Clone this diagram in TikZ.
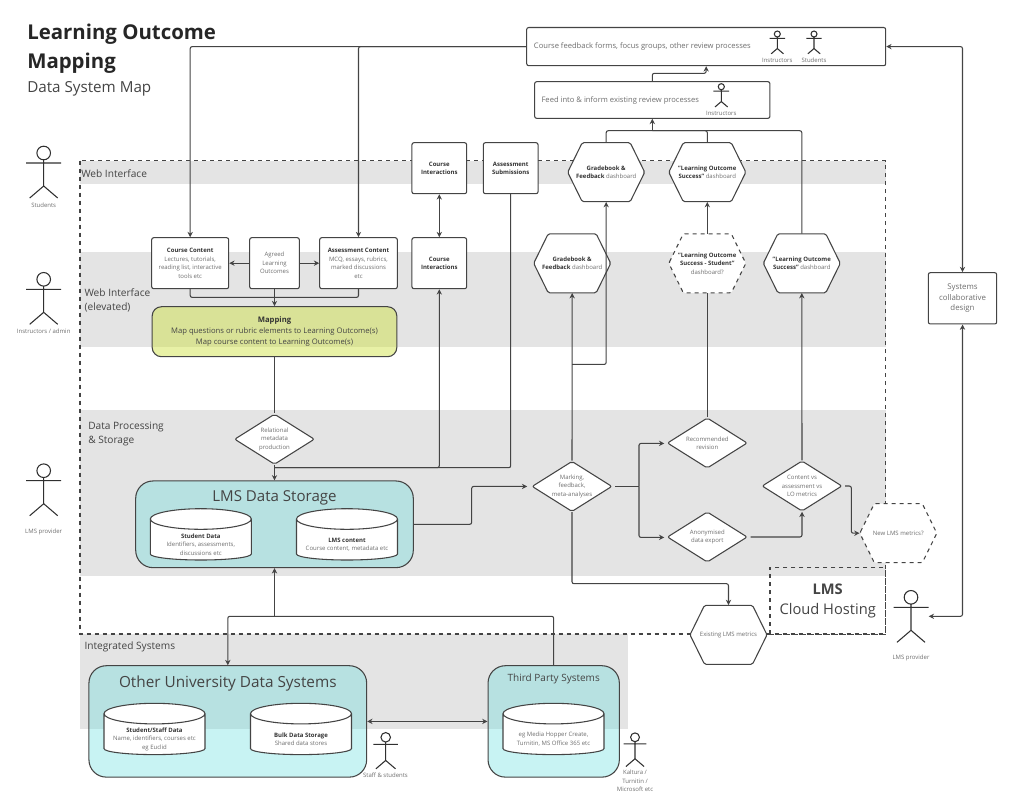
\documentclass[tikz,border=0pt]{standalone}
\usepackage{fontspec}
\setmainfont{Open Sans}
\usetikzlibrary{arrows.meta,shapes.geometric}
\definecolor{band}{HTML}{E4E4E4}
\definecolor{ink}{HTML}{444444}
\definecolor{bodygrey}{HTML}{6E6E6E}
\definecolor{headgrey}{HTML}{333333}
\definecolor{olive}{RGB}{204,224,58}
\definecolor{teal1}{RGB}{106,222,222}
\newcommand{\fsize}[2]{\fontsize{#1}{#2}\selectfont}
\newcommand{\hd}[1]{\textbf{\textcolor{headgrey}{#1}}}
\newcommand{\drum}[4]{
  \draw[drumline] (#2-50.5,#3+10.3) -- (#2-50.5,#3+45.3) arc[start angle=180,end angle=0,x radius=50.5,y radius=6] -- (#2+50.5,#3+10.3) arc[start angle=0,end angle=-180,x radius=50.5,y radius=10.3] arc[start angle=180,end angle=0,x radius=50.5,y radius=10.3];
  \node[smalltxt] (#1) at (#2,#3+36) {#4};
}
\newcommand{\hexnode}[5][]{
  \draw[hexline,#1] (#3-38.5,#4) -- (#3-24,#4-29.5) -- (#3+24,#4-29.5) -- (#3+38.5,#4) -- (#3+24,#4+29.5) -- (#3-24,#4+29.5) -- cycle;
  \node[smalltxt,minimum width=57.75pt,minimum height=44.25pt] (#2) at (#3,#4) {#5};
}
\tikzset{
  smalltxt/.style={align=center,inner sep=0,text=bodygrey,font=\fsize{4.5}{6.35}},
  midtxt/.style={align=center,inner sep=0,text=bodygrey,font=\fsize{5.7}{8}},
  zonetxt/.style={align=left,inner sep=0,anchor=west,text=ink,font=\fsize{7.6}{10.5}},
  box/.style 2 args={rectangle,draw=ink,fill=white,line width=.8pt,rounded corners=1.5pt,inner sep=0,minimum width=#1*.75pt,minimum height=#2*.75pt},
  store/.style 2 args={rectangle,draw=ink,fill=teal1,fill opacity=.37,text opacity=1,line width=.8pt,rounded corners=13pt,inner sep=0,minimum width=#1*.75pt,minimum height=#2*.75pt},
  hexline/.style={draw=ink,fill=white,line width=.8pt,rounded corners=1.2pt},
  dia/.style={diamond,aspect=1.6,draw=ink,fill=white,line width=.8pt,rounded corners=1.5pt,inner sep=-3pt,minimum width=60pt,minimum height=37.8pt},
  drumline/.style={draw=ink,fill=white,line width=.8pt},
  link/.style={draw=ink,line width=.8pt,rounded corners=1.5pt,>={Stealth[length=4pt,width=4pt]}},
  actor/.pic={
    \draw[ink!70!black,line width=.8pt] (0,0) circle (6.8) (0,6.8) -- (0,33) (-17.5,10) -- (17.5,10) (-14,45) -- (0,33) -- (14,45);
  }
}
\begin{document}
\begin{tikzpicture}[x=.75pt,y=-.75pt]
  \useasboundingbox (0,0) rectangle (1024,801);
  \fill[band] (80,160.7) rectangle (885.5,184);
  \fill[band] (80,252) rectangle (885.5,347);
  \fill[band] (80,410) rectangle (885.5,576);
  \fill[band] (80,634) rectangle (628,729);
  \draw[dashed,ink,line width=.8pt] (80,160.7) rectangle (885.5,634);

  \node[anchor=west,inner sep=0,align=left,text=black!85,font=\fsize{15.3}{21.7}\bfseries] (title) at (27,49) {Learning Outcome\\Mapping};
  \node[anchor=west,inner sep=0,text=ink,font=\fsize{11.4}{14}] (subtitle) at (27,89) {Data System Map};
  \node[zonetxt] (zoneweb) at (81,173.2) {Web Interface};
  \node[zonetxt] (zoneelev) at (84.3,300.5) {Web Interface\\(elevated)};
  \node[zonetxt] (zonedata) at (88,433.5) {Data Processing\\\& Storage};
  \node[zonetxt] (zoneint) at (84.3,647.2) {Integrated Systems};

  \node[box={359}{38.2}] (feedback) at (706.2,46.6) {};
  \node[midtxt,anchor=west] (feedbacktxt) at (533.7,46.7) {Course feedback forms, focus groups, other review processes};
  \node[box={235.3}{36.6}] (feed) at (652.3,100) {};
  \node[midtxt,anchor=west] (feedtxt) at (541.3,100) {Feed into \& inform existing review processes};
  \node[box={54.7}{51}] (citop) at (439.3,168.2) {};
  \node[smalltxt] (citoptxt) at (439.3,168.2) {\hd{Course}\\\hd{Interactions}};
  \node[box={54.7}{51}] (subm) at (510.7,168.2) {};
  \node[smalltxt] (submtxt) at (510.7,168.2) {\hd{Assessment}\\\hd{Submissions}};
  \node[box={77}{51}] (coursecontent) at (190.2,263.2) {};
  \node[smalltxt] (coursetxt) at (190.2,263.2) {\hd{Course Content}\\Lectures, tutorials,\\reading list, interactive\\tools etc};
  \node[box={49.6}{51}] (agreed) at (274.5,263.2) {};
  \node[smalltxt] (agreedtxt) at (274.5,263.2) {Agreed\\Learning\\Outcomes};
  \node[box={77.6}{51}] (assess) at (358.5,263.2) {};
  \node[smalltxt] (assesstxt) at (358.5,263.2) {\hd{Assessment Content}\\MCQ, essays, rubrics,\\marked discussions\\etc};
  \node[box={54.7}{51}] (ci) at (439.3,263.2) {};
  \node[smalltxt] (citxt) at (439.3,263.2) {\hd{Course}\\\hd{Interactions}};
  \node[store={244.7}{50},fill=olive,fill opacity=.45,rounded corners=7pt] (mapping) at (274.5,331.7) {};
  \node[midtxt,font=\fsize{5.75}{8}] (mappingtxt) at (274.5,331.5) {\hd{Mapping}\\\textcolor{ink}{Map questions or rubric elements to Learning Outcome(s)}\\\textcolor{ink}{Map course content to Learning Outcome(s)}};
  \node[box={68.4}{51.3}] (systems) at (962.5,298.3) {};
  \node[midtxt,font=\fsize{5.9}{7.9}] (systemstxt) at (962.5,298.3) {Systems\\collaborative\\design};

  \hexnode{gradetop}{606.2}{172.2}{\hd{Gradebook \&}\\\hd{Feedback} dashboard}
  \hexnode{lotop}{707.3}{172.2}{\hd{"Learning Outcome}\\\hd{Success"} dashboard}
  \hexnode{gradelow}{572.2}{263.3}{\hd{Gradebook \&}\\\hd{Feedback} dashboard}
  \hexnode[dashed]{lostud}{707.3}{263.3}{\hd{"Learning Outcome}\\\hd{Success - Student"}\\dashboard?}
  \hexnode{lolow}{801.8}{263.3}{\hd{"Learning Outcome}\\\hd{Success"} dashboard}

  \node[dia] (relational) at (274.5,439.2) {};
  \node[smalltxt] (relationaltxt) at (274.5,439.2) {Relational\\metadata\\production};
  \node[dia] (marking) at (572,486.4) {};
  \node[smalltxt] (markingtxt) at (572,486) {Marking,\\feedback,\\meta-analyses};
  \node[dia] (revision) at (707.3,443) {};
  \node[smalltxt] (revisiontxt) at (707.3,443) {Recommended\\revision};
  \node[dia] (export) at (707.3,537) {};
  \node[smalltxt] (exporttxt) at (707.3,537) {Anonymised\\data export};
  \node[dia] (metrics) at (802,486) {};
  \node[smalltxt] (metricstxt) at (802,486) {Content vs\\assessment vs\\LO metrics};

  \hexnode[dashed]{newmetrics}{898.3}{533.2}{New LMS metrics?}
  \hexnode{existing}{728.5}{634.8}{Existing LMS metrics}
  \node[rectangle,draw=ink,dashed,line width=1pt,inner sep=0,minimum width=86.6pt,minimum height=49.9pt,align=center,text=ink,font=\fsize{11}{15.2}] (cloud) at (827.7,600.9) {\textbf{LMS}\\Cloud Hosting};

  \node[store={277.6}{86.7}] (lmsstorage) at (274.5,524.3) {};
  \node[inner sep=0,text=ink,font=\fsize{11.3}{14}] (lmstitle) at (274.5,498) {LMS Data Storage};
  \drum{studentdata}{200.8}{508.7}{\hd{Student Data}\\Identifiers, assessments,\\discussions etc}
  \drum{lmscontent}{347}{508.7}{\hd{LMS content}\\Course content, metadata etc}

  \node[store={277.7}{111.4}] (othersys) at (227.8,721.4) {};
  \node[inner sep=0,text=ink,font=\fsize{11.5}{14}] (othertitle) at (227.8,683.5) {Other University Data Systems};
  \drum{staffdata}{154.5}{703.3}{\hd{Student/Staff Data}\\Name, identifiers, courses etc\\eg Euclid}
  \drum{bulkdata}{301}{703.3}{\hd{Bulk Data Storage}\\Shared data stores}
  \node[store={131.3}{111.4}] (thirdparty) at (553.7,721.4) {};
  \node[inner sep=0,text=ink,font=\fsize{7.5}{10}] (thirdtitle) at (553.7,679) {Third Party Systems};
  \drum{thirddata}{553.5}{703.3}{eg Media Hopper Create,\\Turnitin, MS Office 365 etc}

  \pic at (43.7,153) {actor};
  \pic at (43.7,279.3) {actor};
  \pic at (43.7,470.7) {actor};
  \pic at (911,597.3) {actor};
  \pic[scale=.44] at (777.3,34) {actor};
  \pic[scale=.44] at (814,34) {actor};
  \pic[scale=.45] at (721.3,86.7) {actor};
  \pic[scale=.7] at (385.7,737.3) {actor};
  \pic[scale=.65] at (635,737.3) {actor};
  \node[smalltxt] (a1) at (43.7,205) {Students};
  \node[smalltxt] (a2) at (43.7,331.7) {Instructors / admin};
  \node[smalltxt] (a3) at (43.7,531.7) {LMS provider};
  \node[smalltxt] (a4) at (911,658.3) {LMS provider};
  \node[smalltxt] (a5) at (777.3,60.3) {Instructors};
  \node[smalltxt] (a6) at (814,60.3) {Students};
  \node[smalltxt] (a7) at (721.3,113.3) {Instructors};
  \node[smalltxt] (a8) at (385.5,775.7) {Staff \& students};
  \node[smalltxt] (a9) at (635,781) {Kaltura /\\Turnitin /\\Microsoft etc};

  \coordinate (mapjoin) at (274.5,297.4);
  \coordinate (lmsjoin) at (274.5,467.7);
  \coordinate (storeelbow) at (471.7,486.4);
  \coordinate (gradejoin) at (572,364.4);
  \coordinate (split) at (639,486.4);
  \coordinate (reventry) at (664.3,443.4);
  \coordinate (expentry) at (664.3,537.4);
  \coordinate (metelbow) at (851.3,533.2);
  \coordinate (existelbow) at (728.5,583.7);
  \coordinate (feedjoin) at (652.3,130.7);
  \coordinate (reviewelbow) at (706.2,73.3);
  \coordinate (busjoin) at (274.5,616.3);
  \coordinate (providerend) at (928.7,616.3);

  \draw[link,->] (feedback.west) -| (coursecontent.north);
  \draw[link,->] (feedback.west) -| (assess.north);
  \draw[link,->] (agreed.west) -- (coursecontent.east);
  \draw[link,->] (agreed.east) -- (assess.west);
  \draw[link] (coursecontent.south) |- (mapjoin);
  \draw[link] (assess.south) |- (mapjoin);
  \draw[link,->] (agreed.south) -- (mapping.north);
  \draw[link] (mapping.south) -- (relational.north);
  \draw[link,->] (relational.south) -- (lmsstorage.north);
  \draw[link,<->] (ci.north) -- (citop.south);
  \draw[link,->] (lmsjoin) -| (ci.south);
  \draw[link] (subm.south) |- (lmsjoin);
  \draw[link,->,shorten >=3.2pt] (lmsstorage.east) -| (storeelbow) -- (marking.west);
  \draw[link,->] (marking.north) -- (gradelow.south);
  \draw[link,->] (gradejoin) -| (gradetop.south);
  \draw[link,shorten <=2pt] (marking.east) -- (split);
  \draw[link,->] (split) |- (reventry);
  \draw[link,->] (split) |- (expentry);
  \draw[link] (revision.north) -- (lostud.south);
  \draw[link,->] (lostud.north) -- (lotop.south);
  \draw[link,->] (metrics.north) -- (lolow.south);
  \draw[link,->,shorten <=2pt] (export.east) -| (metrics.south);
  \draw[link,->,shorten <=2pt] (metrics.east) -| (metelbow) -- (newmetrics.west);
  \draw[link,->] (marking.south) |- (existelbow) -- (existing.north);
  \draw[link] (gradetop.north) |- (feedjoin);
  \draw[link] (lotop.north) |- (feedjoin);
  \draw[link] (lolow.north) |- (feedjoin);
  \draw[link,->] (feedjoin) -- (feed.south);
  \draw[link,->] (feed.north) |- (reviewelbow) -- (feedback.south);
  \draw[link,<->] (feedback.east) -| (systems.north);
  \draw[link,<->] (systems.south) |- (providerend);
  \draw[link,->] (busjoin) -- (lmsstorage.south);
  \draw[link,->] (thirdparty.north) |- (busjoin) -| (othersys.north);
  \draw[link,<->] (othersys.east) -- (thirdparty.west);
\end{tikzpicture}
\end{document}
